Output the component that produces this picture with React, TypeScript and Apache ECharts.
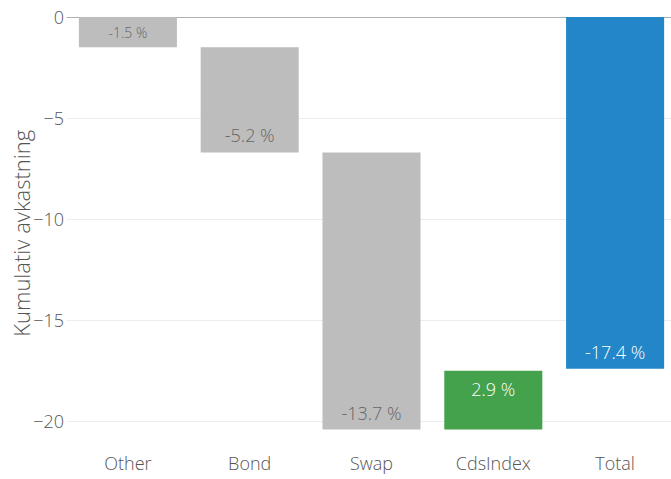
import React, { useEffect, useRef } from "react";
import * as echarts from "echarts";

const categories = ["Other", "Bond", "Swap", "CdsIndex", "Total"];
const stepValues = [-1.5, -5.2, -13.7, 2.9];
const totalValue = -17.4;
const yTicks = [-20, -15, -10, -5, 0];
const yTitle = "Kumulativ avkastning";

const FONT = "'Open Sans', 'Noto Sans', sans-serif";

export default function App() {
  const ref = useRef<HTMLDivElement>(null);
  useEffect(() => {
    const chart = echarts.init(ref.current!, null, { renderer: "svg" });
    const rows: number[][] = [];
    let cum = 0;
    stepValues.forEach((v, i) => {
      rows.push([i, cum, cum + v, v, v >= 0 ? 1 : 0]);
      cum += v;
    });
    rows.push([categories.length - 1, 0, totalValue, totalValue, 2]);

    chart.setOption({
      animation: false,
      grid: {
        left: 67,
        top: 17,
        width: 609,
        height: 420.6,
        containLabel: false,
        outerBoundsMode: "none",
      },
      xAxis: [
        {
          type: "category",
          data: categories,
          position: "bottom",
          axisLine: { show: false, onZero: false },
          axisTick: { show: false },
          splitLine: { show: false },
          axisLabel: {
            margin: 16,
            fontSize: 18,
            fontFamily: FONT,
            fontWeight: 300,
            color: "#555555",
          },
        },
        {
          type: "category",
          data: categories,
          position: "top",
          axisLine: { show: true, onZero: false, lineStyle: { color: "#b0b0b0", width: 1 } },
          axisTick: { show: false },
          axisLabel: { show: false },
          splitLine: { show: false },
        },
      ],
      yAxis: {
        type: "value",
        min: -20.8,
        max: 0,
        name: yTitle,
        nameLocation: "middle",
        nameGap: 35,
        nameMoveOverlap: false,
        nameTextStyle: {
          fontSize: 22,
          fontFamily: FONT,
          fontWeight: 300,
          color: "#555555",
          padding: [0, 12, 0, 0],
        },
        axisLine: { show: false },
        axisTick: { show: false, customValues: yTicks },
        axisLabel: {
          customValues: yTicks,
          margin: 3,
          fontSize: 18,
          fontFamily: FONT,
          fontWeight: 300,
          color: "#555555",
          formatter: (v: number) => (v < 0 ? "\u2212" + Math.abs(v) : String(v)),
        },
        splitLine: { show: true, lineStyle: { color: "#ececec", width: 1 } },
      },
      series: [
        {
          type: "custom",
          z: 2,
          data: rows,
          encode: { x: 0, y: [1, 2] },
          renderItem: (params: any, api: any) => {
            const idx = api.value(0);
            const start = api.value(1);
            const end = api.value(2);
            const v = api.value(3);
            const kind = api.value(4);
            const p0 = api.coord([idx, start]);
            const p1 = api.coord([idx, end]);
            const band = api.size([1, 0])[0];
            const w = band * 0.805;
            const top = Math.min(p0[1], p1[1]);
            const h = Math.abs(p1[1] - p0[1]);
            const fill = kind === 2 ? "#2286c8" : kind === 1 ? "#44a14c" : "#bdbdbd";
            const textColor = kind === 0 ? "#666666" : "#ffffff";
            const small = h < 40;
            const ty = small ? top + h / 2 : end < start ? top + h - 17 : top + 18;
            return {
              type: "group",
              children: [
                {
                  type: "rect",
                  shape: { x: p0[0] - w / 2, y: top, width: w, height: h },
                  style: { fill },
                },
                {
                  type: "text",
                  x: p0[0],
                  y: ty,
                  style: {
                    text: `${v.toFixed(1)} %`,
                    fill: textColor,
                    fontSize: small ? 14 : 18,
                    fontFamily: FONT,
                    fontWeight: 300,
                    align: "center",
                    verticalAlign: "middle",
                  },
                },
              ],
            };
          },
        },
      ],
    });
    return () => chart.dispose();
  }, []);
  return (
    <div
      ref={ref}
      style={{ position: "absolute", left: 0, top: 0, width: 671, height: 479 }}
    />
  );
}
